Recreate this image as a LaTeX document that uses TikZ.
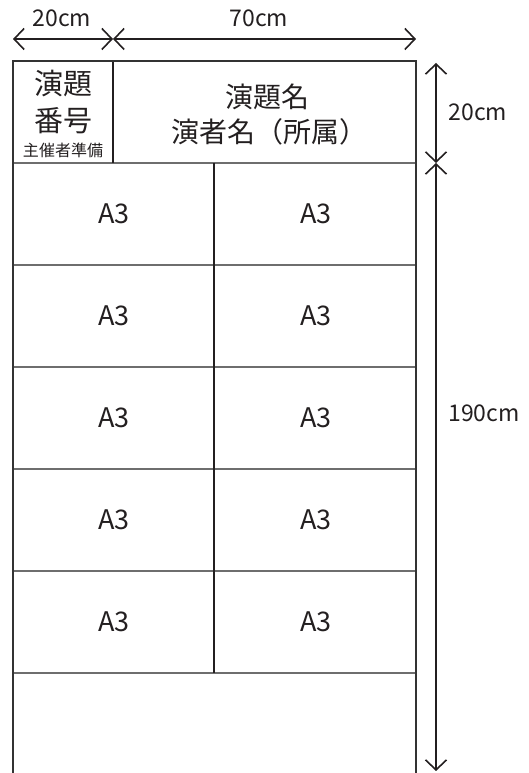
\documentclass[tikz,border=0pt]{standalone}
\usepackage{fontspec}
\setmainfont{Noto Sans CJK JP}
\usetikzlibrary{arrows.meta}
\definecolor{ink}{HTML}{231F20}
\definecolor{frame}{HTML}{333333}
\definecolor{divider}{HTML}{6E6E6E}
\tikzset{
  outer/.style={draw=frame, line width=2.4pt},
  rowline/.style={draw=divider, line width=1.6pt},
  colline/.style={draw=ink, line width=1.1pt},
  dim/.style={draw=ink, line width=1.6pt, {Straight Barb[length=10pt,width=21pt]}-{Straight Barb[length=10pt,width=21pt]}},
  dimlabel/.style={text=ink, font=\fontsize{23}{26}\selectfont, inner sep=0pt},
  cell/.style={text=ink, font=\fontsize{27}{30}\selectfont, inner sep=0pt},
  big/.style={text=ink, font=\fontsize{29}{32}\selectfont, inner sep=0pt},
  title/.style={text=ink, font=\fontsize{28}{32}\selectfont, inner sep=0pt},
  small/.style={text=ink, font=\fontsize{16}{18}\selectfont, inner sep=0pt}
}
\begin{document}
\begin{tikzpicture}[x=1pt,y=1pt]
\useasboundingbox (0,0) rectangle (529,773);
% coordinates
\coordinate (bl) at (13,0);
\coordinate (tl) at (13,712);
\coordinate (tr) at (416,712);
\coordinate (br) at (416,0);
\coordinate (hd) at (113,712);
\coordinate (hdb) at (113,610);
\coordinate (cv1) at (214,610);
\coordinate (cv2) at (214,100);
% row lines
\foreach \y [count=\i] in {610,508,406,304,202,100} {
  \coordinate (rl\i) at (13,\y);
  \coordinate (rr\i) at (416,\y);
  \draw[rowline] (rl\i) -- (rr\i);
}
\draw[colline] (hd) -- (hdb);
\draw[colline] (cv1) -- (cv2);
\draw[outer] (bl) -- (tl) -- (tr) -- (br);
% A3 cells
\foreach \y [count=\i] in {559,457,355,253,151} {
  \node[cell] (al\i) at (114,\y) {A3};
  \node[cell] (ar\i) at (316,\y) {A3};
}
% header
\node[big] (h1) at (63,689) {演題};
\node[big] (h2) at (63,652) {番号};
\node[small] (h3) at (63,623) {主催者準備};
\node[title] (t1) at (267,676) {演題名};
\node[title] (t2) at (269,641) {演者名（所属）};
% top dimensions
\coordinate (ta) at (13,734);
\coordinate (tb) at (113,734);
\coordinate (tc) at (416,734);
\draw[dim] (ta) -- (tb);
\draw[dim] (tb) -- (tc);
\node[dimlabel] (l20a) at (62,755) {20cm};
\node[dimlabel] (l70) at (259,755) {70cm};
% right dimensions
\coordinate (ra) at (436,710);
\coordinate (rb) at (436,610);
\coordinate (rc) at (436,2);
\draw[dim] (ra) -- (rb);
\draw[dim] (rb) -- (rc);
\node[dimlabel] (l20b) at (478,661) {20cm};
\node[dimlabel] (l190) at (484,360) {190cm};
\end{tikzpicture}
\end{document}
